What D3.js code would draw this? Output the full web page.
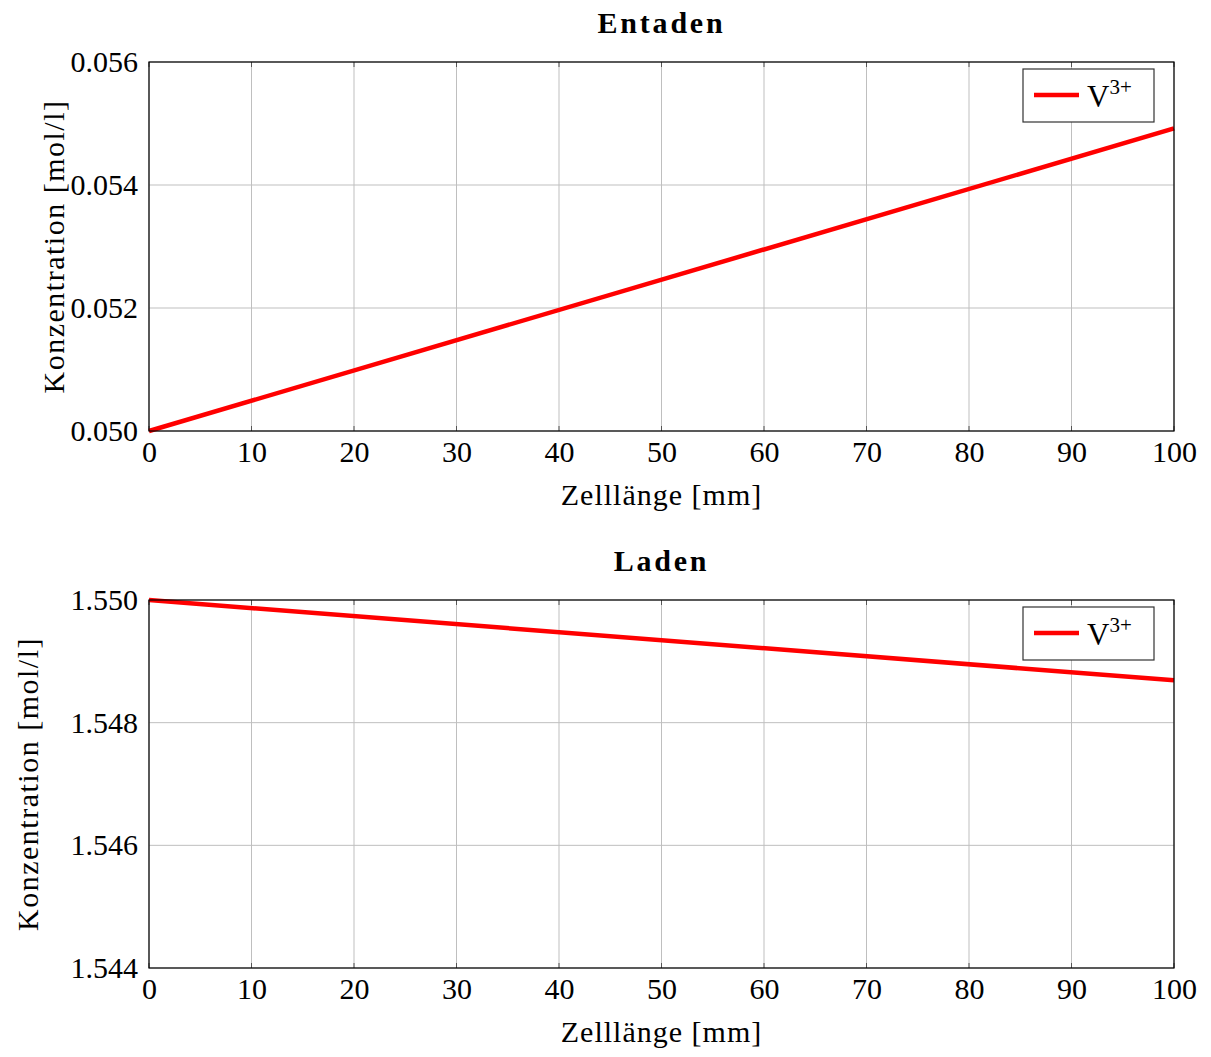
<!DOCTYPE html>
<html>
<head>
<meta charset="utf-8">
<script src="https://cdn.jsdelivr.net/npm/d3@7"></script>
<style>
  body { margin: 0; background: #fff; }
  svg text { font-family: "Liberation Serif", "DejaVu Serif", serif; fill: #000; }
</style>
</head>
<body>
<svg id="chart" width="1211" height="1057"></svg>
<script>
// Concentration of V3+ along the cell, discharge and charge
const xPositions = [0, 100];
const entadenValues = [0.050, 0.05492];
const ladenValues = [1.550, 1.54869];
const xTicks = [0, 10, 20, 30, 40, 50, 60, 70, 80, 90, 100];
const entadenTicks = [0.050, 0.052, 0.054, 0.056];
const ladenTicks = [1.544, 1.546, 1.548, 1.550];
const panelTitles = ["Entaden", "Laden"];
const xLabel = "Zelllänge [mm]";
const yLabel = "Konzentration [mol/l]";
const seriesName = "V";
const seriesSup = "3+";

const svg = d3.select("#chart");

function panel(cfg) {
  const { top, bottom, left, right, values, yTicks, title, yLabelX } = cfg;
  const g = svg.append("g");
  const x = d3.scaleLinear().domain([0, 100]).range([left, right]);
  const y = d3.scaleLinear().domain([yTicks[0], yTicks[yTicks.length - 1]]).range([bottom, top]);

  // grid
  g.append("g").selectAll("line").data(xTicks).join("line")
    .attr("x1", d => x(d)).attr("x2", d => x(d))
    .attr("y1", top).attr("y2", bottom)
    .attr("stroke", "#bfbfbf").attr("stroke-width", 1);
  g.append("g").selectAll("line").data(yTicks).join("line")
    .attr("x1", left).attr("x2", right)
    .attr("y1", d => y(d)).attr("y2", d => y(d))
    .attr("stroke", "#bfbfbf").attr("stroke-width", 1);

  // axes (labels only, frame drawn separately)
  const xAxis = d3.axisBottom(x).tickValues(xTicks).tickSize(0).tickPadding(10).tickFormat(d3.format("d"));
  g.append("g").attr("transform", `translate(0,${bottom})`).call(xAxis)
    .call(a => a.select(".domain").remove())
    .selectAll("text").style("font-size", "30px").style("font-family", "Liberation Serif, serif");
  const yAxis = d3.axisLeft(y).tickValues(yTicks).tickSize(0).tickPadding(11).tickFormat(d3.format(".3f"));
  g.append("g").attr("transform", `translate(${left},0)`).call(yAxis)
    .call(a => a.select(".domain").remove())
    .selectAll("text").style("font-size", "30px").style("font-family", "Liberation Serif, serif");

  // small inward ticks
  g.append("g").selectAll("line").data(xTicks).join("line")
    .attr("x1", d => x(d)).attr("x2", d => x(d))
    .attr("y1", bottom).attr("y2", bottom - 5)
    .attr("stroke", "#555").attr("stroke-width", 1);
  g.append("g").selectAll("line").data(xTicks).join("line")
    .attr("x1", d => x(d)).attr("x2", d => x(d))
    .attr("y1", top).attr("y2", top + 5)
    .attr("stroke", "#555").attr("stroke-width", 1);

  // data line
  const pts = xPositions.map((d, i) => [d, values[i]]);
  g.append("path").datum(pts)
    .attr("d", d3.line().x(d => x(d[0])).y(d => y(d[1])))
    .attr("fill", "none").attr("stroke", "#ff0000").attr("stroke-width", 4.5);

  // frame
  g.append("rect").attr("x", left).attr("y", top)
    .attr("width", right - left).attr("height", bottom - top)
    .attr("fill", "none").attr("stroke", "#000").attr("stroke-width", 1.2);

  // title
  g.append("text").attr("x", (left + right) / 2).attr("y", top - 29)
    .attr("text-anchor", "middle").style("font-size", "30px").style("font-weight", "bold")
    .style("letter-spacing", "2.8px")
    .text(title);

  // x label
  g.append("text").attr("x", (left + right) / 2).attr("y", bottom + 74)
    .attr("text-anchor", "middle").style("font-size", "30px").style("letter-spacing", "1px").text(xLabel);

  // y label
  g.append("text")
    .attr("transform", `translate(${yLabelX},${(top + bottom) / 2}) rotate(-90)`)
    .attr("text-anchor", "middle").style("font-size", "30px").style("letter-spacing", "1.5px").text(yLabel);

  // legend
  const lg = g.append("g");
  lg.append("rect").attr("x", 1023).attr("y", top + 7).attr("width", 131).attr("height", 53)
    .attr("fill", "#fff").attr("stroke", "#333").attr("stroke-width", 1.2);
  lg.append("line").attr("x1", 1034).attr("x2", 1079).attr("y1", top + 33).attr("y2", top + 33)
    .attr("stroke", "#ff0000").attr("stroke-width", 4.5);
  const t = lg.append("text").attr("x", 1087).attr("y", top + 45).style("font-size", "31px");
  t.append("tspan").text(seriesName);
  t.append("tspan").attr("dy", -13).style("font-size", "21px").text(seriesSup);
}

panel({ top: 62, bottom: 431, left: 149, right: 1174, values: entadenValues, yTicks: entadenTicks, title: panelTitles[0], yLabelX: 64 });
panel({ top: 600, bottom: 968, left: 149, right: 1174, values: ladenValues, yTicks: ladenTicks, title: panelTitles[1], yLabelX: 38 });
</script>
</body>
</html>
